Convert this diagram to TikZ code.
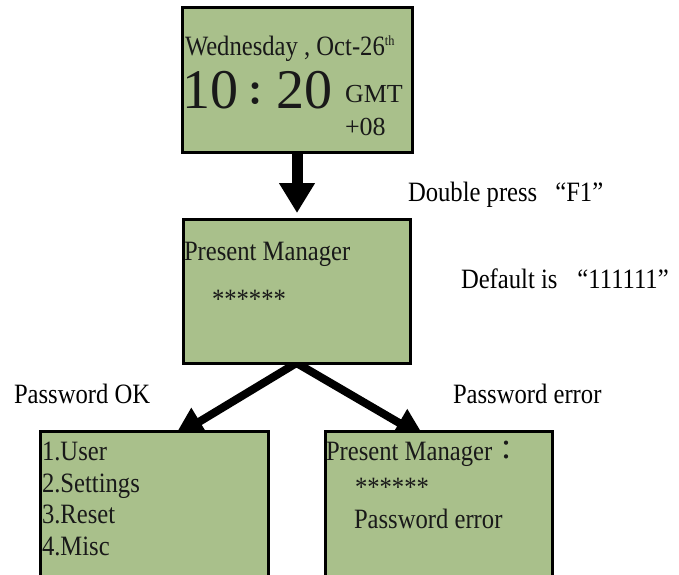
\documentclass[tikz,border=0pt]{standalone}
\usepackage{fontspec}
\setmainfont{Liberation Serif}[FakeStretch=0.88]
\newfontfamily\wide{Liberation Serif}
\newfontfamily\cjk{Noto Sans CJK TC}
\usetikzlibrary{arrows.meta}
\pgfdeclarelayer{bg}
\pgfsetlayers{bg,main}
\definecolor{lcd}{RGB}{169,192,139}
\definecolor{ink}{RGB}{25,25,25}
\begin{document}
\begin{tikzpicture}[x=1pt,y=-1pt,
  screen/.style={draw=black, line width=3pt, fill=lcd, inner sep=0pt, outer sep=0pt, anchor=north west},
  txt/.style={anchor=base west, inner sep=0pt, outer sep=0pt, font=\fontsize{28}{28}\selectfont, text=ink},
  lbl/.style={anchor=base west, inner sep=0pt, outer sep=0pt, font=\fontsize{28}{28}\selectfont, text=black},
  downarrow/.style={line width=11pt, -{Triangle[width=34pt,length=30pt]}},
  branch/.style={line width=8pt, {Triangle[width=30pt,length=30pt]}-{Triangle[width=30pt,length=30pt]}, line join=miter},
]
\useasboundingbox (0,0) rectangle (679,574);
% screens
\node[screen, minimum width=230pt, minimum height=145pt] (clock) at (182,7) {};
\node[screen, minimum width=227pt, minimum height=144pt] (login) at (183,219) {};
% connectors
\draw[downarrow, shorten >=6pt] (clock.south) -- (clock.south |- login.north);
\coordinate (tipL) at (174,437);
\coordinate (tipR) at (425,438);
\begin{pgfonlayer}{bg}
\draw[branch] (tipL) -- (login.south) -- (tipR);
\end{pgfonlayer}
\node[screen, minimum width=228pt, minimum height=200pt] (menu) at (40,431) {};
\node[screen, minimum width=227pt, minimum height=200pt] (err) at (325,431) {};
% clock texts
\node[txt] (date) at (185,55) {Wednesday , Oct-26\raisebox{10pt}{\fontsize{14}{14}\selectfont th}};
\node[txt, font=\wide\fontsize{56}{56}\selectfont] (time) at (182,108) {10\hspace{1pt}\raisebox{3pt}{\cjk\bfseries\fontsize{32}{32}\selectfont ：}\hspace{5pt}20};
\node[txt, font=\wide\fontsize{26}{26}\selectfont] (gmt) at (345,102) {GMT};
\node[txt, font=\wide\fontsize{26}{26}\selectfont] (zone) at (345,135) {+08};
% login texts
\node[txt] (pm) at (184,260) {Present Manager};
\node[txt] (stars) at (212,308) {******};
% labels
\node[lbl] (dbl) at (408,201) {Double press\hspace{18pt}“F1”};
\node[lbl] (dflt) at (461,288) {Default is\hspace{20pt}“111111”};
\node[lbl] (ok) at (14,403) {Password OK};
\node[lbl] (bad) at (453,403) {Password error};
% menu texts
\node[txt] (m1) at (42,460) {1.User};
\node[txt] (m2) at (42,492) {2.Settings};
\node[txt] (m3) at (42,523) {3.Reset};
\node[txt] (m4) at (42,555) {4.Misc};
% error texts
\node[txt] (pm2) at (326,460) {Present Manager{\cjk ：}};
\node[txt] (stars2) at (355,496) {******};
\node[txt] (msg) at (354,528) {Password error};
\end{tikzpicture}
\end{document}
